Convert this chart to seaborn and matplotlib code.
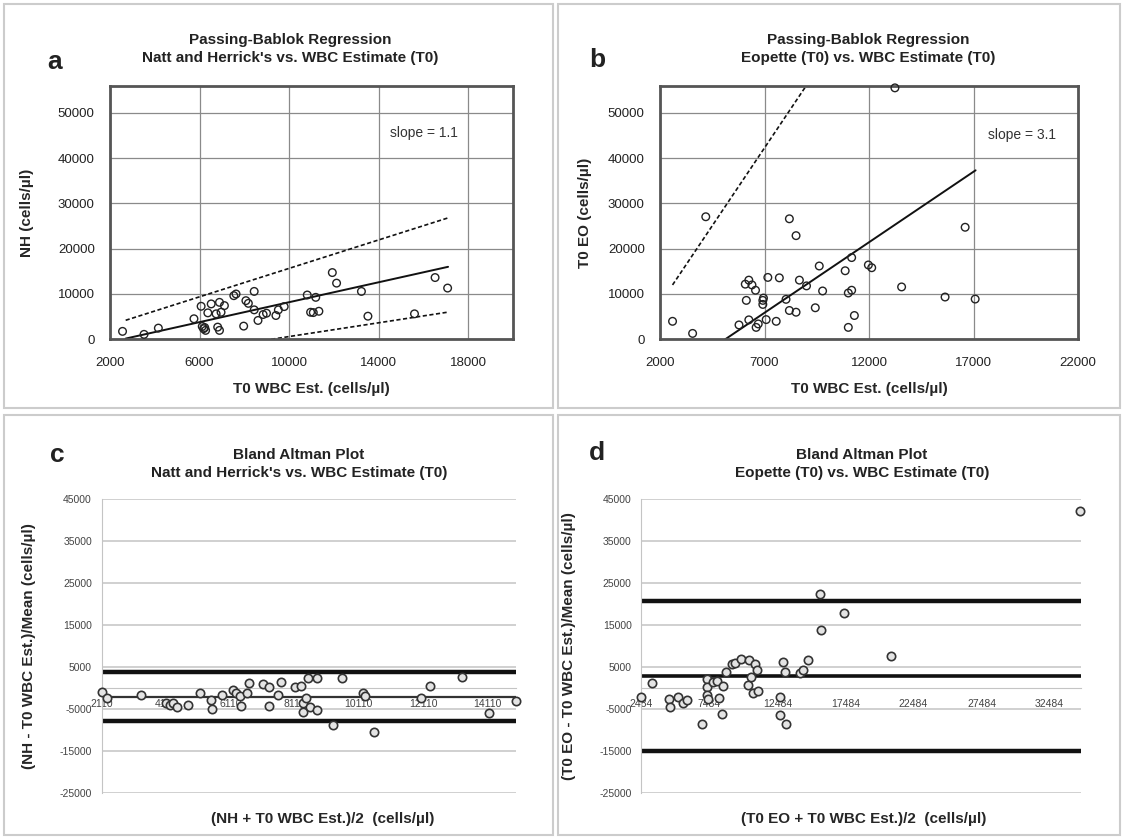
import matplotlib
matplotlib.use("Agg")
import matplotlib.pyplot as plt
from matplotlib.patches import Rectangle
import seaborn as sns

# panel a: Natt and Herrick's vs WBC estimate
a_wbc = [2560, 3520, 4160, 5750, 6070, 6120, 6180, 6270, 6230, 6370, 6520, 6740, 6810, 6890,
         6890, 6960, 7110, 7530, 7630, 7970, 8070, 8180, 8440, 8440, 8610, 8840, 8990, 9410,
         9520, 9780, 10810, 11190, 10960, 11080, 11330, 11930, 12120, 13230, 13520, 15600,
         16520, 17080]
a_nh = [1750, 1090, 2470, 4530, 7290, 2840, 2340, 1970, 2600, 5840, 7810, 5620, 2690, 8160,
        1970, 5970, 7440, 9630, 10000, 2910, 8530, 7940, 10570, 6500, 4160, 5470, 5760, 5250,
        6500, 7220, 9780, 9260, 5970, 5900, 6190, 14730, 12400, 10570, 5100, 5620, 13630, 11310]
a_fit_x = [2700, 17100]
a_fit_y = [160, 16000]
a_hi_x = [2700, 17100]
a_hi_y = [4200, 26800]
a_lo_x = [9200, 17100]
a_lo_y = [0, 6000]

# panel b: Eopette vs WBC estimate
b_wbc = [2600, 3560, 4190, 5780, 6130, 6080, 6250, 6400, 6570, 6250, 6600, 6700, 6920, 6920,
         6950, 7080, 7160, 7560, 7710, 8030, 8190, 8190, 8510, 8510, 8670, 9010, 9430, 9620,
         9780, 10860, 11010, 11010, 11170, 11170, 11300, 11970, 12130, 13240, 13560, 15640,
         16600, 17080]
b_eo = [3970, 1300, 27050, 3170, 8590, 12170, 13060, 12000, 10830, 4290, 2630, 3390, 8590, 7700,
        9100, 4350, 13660, 3970, 13570, 8820, 26600, 6360, 22880, 5980, 13060, 11790, 6960, 16180,
        10670, 15130, 2630, 10220, 10830, 18040, 5250, 16410, 15800, 55500, 11560, 9330, 24730, 8880]
b_fit_x = [5120, 17100]
b_fit_y = [0, 37300]
b_hi_x = [2600, 9000]
b_hi_y = [12000, 56000]

# panel c: Bland Altman NH
c_mean = [2110, 2280, 3340, 4120, 4230, 4340, 4450, 4790, 5180, 5510, 5540, 5850, 6180, 6290,
          6410, 6430, 6630, 6680, 7130, 7320, 7320, 7610, 7690, 8130, 8320, 8360, 8360, 8470,
          8520, 8580, 8800, 8800, 9300, 9580, 10250, 10300, 10580, 12030, 12310, 13310, 14150,
          15000]
c_diff = [-790, -2380, -1590, -3570, -3970, -3410, -4370, -3970, -1190, -2780, -5000, -1590,
          -400, -1190, -1830, -4210, -1190, 1190, 1030, 400, -4210, -1590, 1590, 240, 550, -3570,
          -5560, -2380, 2380, -4370, 2380, -5160, -8730, 2380, -1190, -1830, -10320, -2380, 550,
          2620, -5950, -3020]
c_bias = -2000
c_limits = [3900, -7900]

# panel d: Bland Altman Eopette
d_mean = [2484, 3270, 4510, 4590, 5160, 5560, 5820, 6960, 7270, 7270, 7330, 7410, 7750, 8060,
          8190, 8380, 8460, 8720, 9120, 9380, 9770, 10300, 10430, 10560, 10690, 10830, 10960,
          11090, 12670, 12670, 12930, 13010, 13110, 14160, 14370, 14760, 15630, 15680, 17390,
          20810, 34750]
d_diff = [-2140, 1190, -2620, -4370, -2140, -3570, -2780, -8490, 2140, 400, -1590, -2620, 1590,
          1830, -2380, -6110, 550, 3970, 5790, 6110, 6900, 790, 6750, 2780, -1190, 5790, 4370,
          -560, -2140, -6350, 6190, 3970, -8490, 3570, 4370, 6750, 22460, 13890, 17860, 7700, 42300]
d_bias = 3000
d_limits = [20700, -15000]

sns.set_style("white")
plt.rcParams["font.family"] = ["Liberation Sans", "DejaVu Sans"]
plt.rcParams["axes.unicode_minus"] = False

W, H = 1124, 839
fig = plt.figure(figsize=(W / 100, H / 100), dpi=100)


def box(l, t, r, b):
    return [l / W, 1 - b / H, (r - l) / W, (b - t) / H]


# light frames round the four panels
for l, t, r, b in [(4, 4, 553, 408), (558, 4, 1120, 408), (4, 415, 553, 835), (558, 415, 1120, 835)]:
    fig.add_artist(Rectangle((l / W, 1 - b / H), (r - l) / W, (b - t) / H,
                             transform=fig.transFigure, fill=False, ec="#cccccc", lw=1.5))

ax_a = fig.add_axes(box(110, 85.6, 513, 339.3))
ax_b = fig.add_axes(box(660, 85.6, 1078, 339.3))
ax_c = fig.add_axes(box(101.7, 499.3, 516, 793.3))
ax_d = fig.add_axes(box(641.4, 499.3, 1081, 793.3))


def top_style(ax, xmax):
    ax.set_xlim(2000, xmax)
    ax.set_ylim(0, 56000)
    ax.set_yticks(range(0, 50001, 10000))
    ax.grid(True, color="#8a8a8a", lw=0.9)
    ax.set_axisbelow(True)
    for s in ax.spines.values():
        s.set_color("#555555")
        s.set_linewidth(2)
    ax.tick_params(direction="out", length=4, width=1, color="#555555",
                   labelsize=9.5, labelcolor="#222222", pad=7)
    ax.tick_params(axis="x", pad=9)


top_style(ax_a, 20000)
ax_a.set_xticks(range(2000, 18001, 4000))
sns.scatterplot(x=a_wbc, y=a_nh, ax=ax_a, marker="o", s=30, facecolors="none",
                edgecolors="#222222", linewidths=1, clip_on=False, zorder=3)
ax_a.plot(a_fit_x, a_fit_y, color="#111111", lw=1.4)
ax_a.plot(a_hi_x, a_hi_y, color="#111111", lw=1.2, ls=(0, (2.5, 1.5)))
ax_a.plot(a_lo_x, a_lo_y, color="#111111", lw=1.2, ls=(0, (2.5, 1.5)))
ax_a.text(16000, 45600, "slope = 1.1", ha="center", va="center", fontsize=10, color="#333333")

top_style(ax_b, 22000)
ax_b.set_xticks(range(2000, 22001, 5000))
sns.scatterplot(x=b_wbc, y=b_eo, ax=ax_b, marker="o", s=30, facecolors="none",
                edgecolors="#222222", linewidths=1, clip_on=False, zorder=3)
ax_b.plot(b_fit_x, b_fit_y, color="#111111", lw=1.4)
ax_b.plot(b_hi_x, b_hi_y, color="#111111", lw=1.2, ls=(0, (2.5, 1.5)))
ax_b.text(19340, 45000, "slope = 3.1", ha="center", va="center", fontsize=10, color="#333333")

for ax in (ax_a, ax_b):
    ax.set_xlabel("T0 WBC Est. (cells/µl)", fontsize=11, fontweight="bold")
    ax.xaxis.set_label_coords(0.5, -0.17)
ax_a.set_ylabel("NH (cells/µl)", fontsize=11, fontweight="bold")
ax_a.yaxis.set_label_coords(-0.189, 0.5)
ax_b.set_ylabel("T0 EO (cells/µl)", fontsize=11, fontweight="bold")
ax_b.yaxis.set_label_coords(-0.163, 0.5)


def bottom_style(ax, xmin, xmax, xstep):
    ax.set_xlim(xmin, xmax)
    ax.set_ylim(-25000, 45000)
    ax.set_xticks(range(xmin, xmax, xstep))
    ax.set_yticks(range(-25000, 45001, 10000))
    ax.grid(True, axis="y", color="#c4c4c4", lw=1.1)
    ax.grid(False, axis="x")
    ax.set_axisbelow(True)
    ax.spines["top"].set_visible(False)
    ax.spines["right"].set_visible(False)
    ax.spines["left"].set_color("#c4c4c4")
    ax.spines["bottom"].set_color("#c4c4c4")
    ax.spines["bottom"].set_position(("data", 0))
    ax.tick_params(length=0, labelsize=7.5, labelcolor="#444444")
    ax.tick_params(axis="x", pad=8)
    ax.tick_params(axis="y", pad=7)


bottom_style(ax_c, 2110, 15000, 2000)
ax_c.axhline(c_bias, color="#333333", lw=1.6, zorder=2)
for v in c_limits:
    ax_c.axhline(v, color="#111111", lw=3.2, zorder=2)
sns.scatterplot(x=c_mean, y=c_diff, ax=ax_c, marker="o", s=36, facecolors="#e4e4e4",
                edgecolors="#333333", linewidths=1.2, clip_on=False, zorder=4)
ax_c.set_xlabel("(NH + T0 WBC Est.)/2  (cells/µl)", fontsize=11, fontweight="bold")
ax_c.xaxis.set_label_coords(0.534, -0.065)
ax_c.set_ylabel("(NH - T0 WBC Est.)/Mean (cells/µl)", fontsize=11, fontweight="bold")
ax_c.yaxis.set_label_coords(-0.159, 0.5)

bottom_style(ax_d, 2484, 34800, 5000)
ax_d.axhline(d_bias, color="#111111", lw=2.6, zorder=2)
for v in d_limits:
    ax_d.axhline(v, color="#111111", lw=3.2, zorder=2)
sns.scatterplot(x=d_mean, y=d_diff, ax=ax_d, marker="o", s=36, facecolors="#e4e4e4",
                edgecolors="#333333", linewidths=1.2, clip_on=False, zorder=4)
ax_d.set_xlabel("(T0 EO + T0 WBC Est.)/2  (cells/µl)", fontsize=11, fontweight="bold")
ax_d.xaxis.set_label_coords(0.505, -0.065)
ax_d.set_ylabel("(T0 EO - T0 WBC Est.)/Mean (cells/µl)", fontsize=11, fontweight="bold")
ax_d.yaxis.set_label_coords(-0.149, 0.5)

# titles and panel letters
titles = [
    (290, 49, "Passing-Bablok Regression\nNatt and Herrick's vs. WBC Estimate (T0)"),
    (868, 49, "Passing-Bablok Regression\nEopette (T0) vs. WBC Estimate (T0)"),
    (299, 464, "Bland Altman Plot\nNatt and Herrick's vs. WBC Estimate (T0)"),
    (862, 464, "Bland Altman Plot\nEopette (T0) vs. WBC Estimate (T0)"),
]
for x, y, t in titles:
    fig.text(x / W, 1 - y / H, t, ha="center", va="center", fontsize=11,
             fontweight="bold", color="#222222", linespacing=1.45)

for x, y, t in [(55, 62, "a"), (597, 60, "b"), (57, 455, "c"), (597, 453, "d")]:
    fig.text(x / W, 1 - y / H, t, ha="center", va="center", fontsize=19,
             fontweight="bold", color="#222222")

fig.savefig("out.png", dpi=100, facecolor="white")
